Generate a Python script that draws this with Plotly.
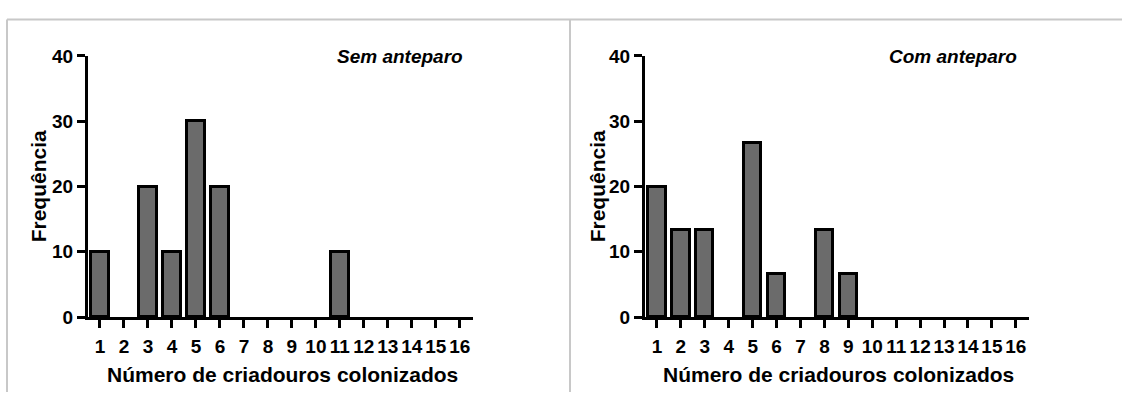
import plotly.graph_objects as go

# Frequência de ocorrência por número de criadouros colonizados
categorias = list(range(1, 17))
sem_anteparo = [10, 0, 20, 10, 30, 20, 0, 0, 0, 0, 10, 0, 0, 0, 0, 0]
com_anteparo = [20, 13.33, 13.33, 0, 26.67, 6.67, 0, 13.33, 6.67, 0, 0, 0, 0, 0, 0, 0]
y_ticks = [0, 10, 20, 30, 40]

W, H = 1122, 403
FONT = "Liberation Sans, Arial, sans-serif"
BAR_FILL = "#6b6b6b"


def px(x):
    return x / W


def py(y):
    return 1 - y / H


fig = go.Figure()

for vals, xa, ya in [(sem_anteparo, "x", "y"), (com_anteparo, "x2", "y2")]:
    # empty classes are left out so no outline sits on the baseline
    fig.add_trace(go.Bar(
        x=categorias, y=[v if v > 0 else None for v in vals],
        xaxis=xa, yaxis=ya, width=0.72,
        marker=dict(color=BAR_FILL, line=dict(color="black", width=3)),
        showlegend=False, hoverinfo="x+y",
    ))

tick_font = dict(family=FONT, size=19, color="black", weight="bold")
common_x = dict(
    range=[0.5, 16.55], tickmode="array", tickvals=categorias,
    ticktext=[str(c) for c in categorias],
    showline=True, linecolor="black", linewidth=3,
    ticks="outside", ticklen=8, tickwidth=2.5, tickcolor="black",
    showgrid=False, zeroline=False, fixedrange=True,
    tickfont=tick_font, ticklabelstandoff=2,
)
common_y = dict(
    range=[0, 40], tickmode="array", tickvals=y_ticks,
    showline=True, linecolor="black", linewidth=3,
    ticks="outside", ticklen=8, tickwidth=2.5, tickcolor="black",
    showgrid=False, zeroline=False, fixedrange=True,
    tickfont=tick_font, ticklabelstandoff=0,
)

y_dom = [py(324), py(48.5)]
fig.update_layout(
    width=W, height=H,
    margin=dict(l=0, r=0, t=0, b=0),
    paper_bgcolor="white", plot_bgcolor="rgba(0,0,0,0)",
    bargap=0,
    xaxis=dict(domain=[px(88), px(473)], anchor="y", **common_x),
    yaxis=dict(domain=y_dom, anchor="x", **common_y),
    xaxis2=dict(domain=[px(645), px(1029)], anchor="y2", **common_x),
    yaxis2=dict(domain=y_dom, anchor="x2", **common_y),
)

# Painel: moldura cinza e divisória central
border = dict(color="#c8c8c8", width=2)
fig.add_shape(type="line", xref="paper", yref="paper",
              x0=px(7), x1=1, y0=py(10), y1=py(10), line=border)
fig.add_shape(type="line", xref="paper", yref="paper",
              x0=px(7), x1=px(7), y0=py(10), y1=0, line=border)
fig.add_shape(type="line", xref="paper", yref="paper",
              x0=px(570), x1=px(570), y0=py(10), y1=0, line=border)

# Títulos dos eixos e rótulos dos painéis
for cx, label, fx in [(282, "Sem anteparo", 400), (838, "Com anteparo", 953)]:
    fig.add_annotation(
        xref="paper", yref="paper", x=px(cx), y=py(385),
        text="Número de criadouros colonizados", showarrow=False,
        font=dict(family=FONT, size=21, color="black", weight="bold"),
        xanchor="center", yanchor="middle",
    )
    fig.add_annotation(
        xref="paper", yref="paper", x=px(fx), y=py(49),
        text=label, showarrow=False,
        font=dict(family=FONT, size=19, color="black", weight="bold", style="italic"),
        xanchor="center", yanchor="middle",
    )

for cx in [38, 597]:
    fig.add_annotation(
        xref="paper", yref="paper", x=px(cx), y=py(186),
        text="Frequência", showarrow=False, textangle=-90,
        font=dict(family=FONT, size=21, color="black", weight="bold"),
        xanchor="center", yanchor="middle",
    )

fig.write_html("out.html")
